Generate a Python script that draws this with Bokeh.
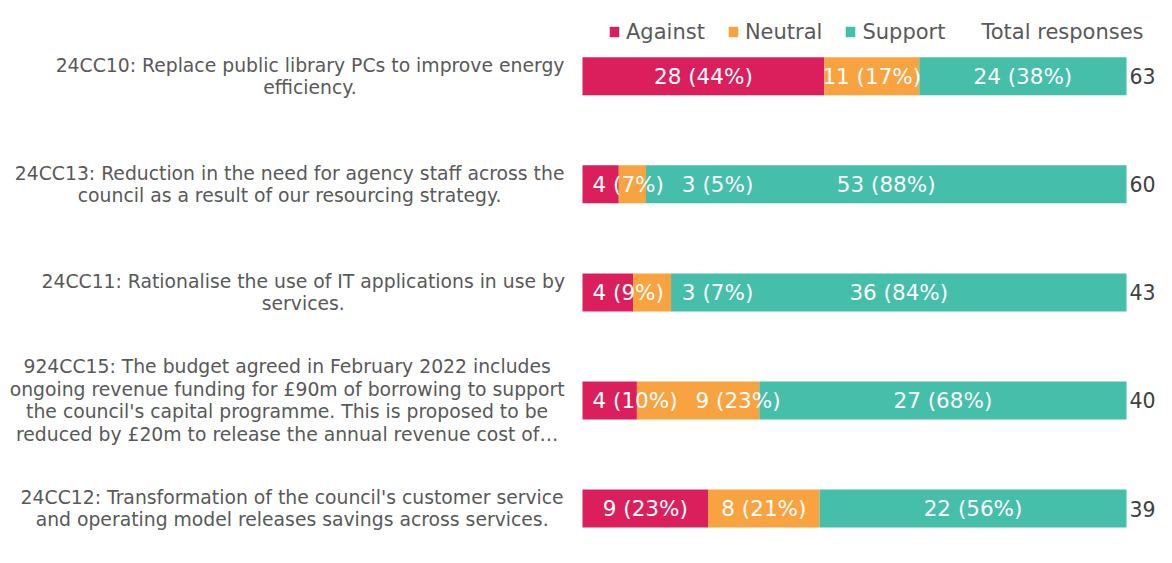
from bokeh.plotting import figure
from bokeh.models import Range1d, Legend, LegendItem, ColumnDataSource
from bokeh.core.properties import value
from bokeh.embed import file_html
from bokeh.resources import INLINE

# ---------------- data ----------------
categories = [
    "24CC10: Replace public library PCs to improve energy\nefficiency.",
    "24CC13: Reduction in the need for agency staff across the\ncouncil as a result of our resourcing strategy.",
    "24CC11: Rationalise the use of IT applications in use by\nservices.",
    "924CC15: The budget agreed in February 2022 includes\nongoing revenue funding for £90m of borrowing to support\nthe council's capital programme. This is proposed to be\nreduced by £20m to release the annual revenue cost of…",
    "24CC12: Transformation of the council's customer service\nand operating model releases savings across services.",
]
against = [28, 4, 4, 4, 9]
neutral = [11, 3, 3, 9, 8]
support = [24, 53, 36, 27, 22]
series_names = ["Against", "Neutral", "Support"]
series_colors = ["#DA1F5C", "#F8A33F", "#45BEAA"]
totals_header = "Total responses"

# ---------------- layout constants ----------------
W, H = 1156, 547
BAR_X0 = 582.0      # canvas px where 0 % sits
BAR_W = 544.0       # px for 100 %
ROW0 = 75.8         # canvas px of first row centre
ROW_STEP = 108.05   # px between rows
BAR_H = 38.0
FONT = "DejaVu Sans"
GREY = "#595959"
DARK = "#404040"

# DejaVu Sans advance widths (em)
DV = {' ': .318, 'a': .613, 'b': .635, 'c': .550, 'd': .635, 'e': .615, 'f': .352, 'g': .635,
      'h': .634, 'i': .278, 'j': .278, 'k': .579, 'l': .278, 'm': .974, 'n': .634, 'o': .612,
      'p': .635, 'q': .635, 'r': .411, 's': .521, 't': .392, 'u': .634, 'v': .592, 'w': .818,
      'x': .592, 'y': .592, 'z': .525, 'A': .684, 'B': .686, 'C': .698, 'D': .770, 'E': .632,
      'F': .575, 'G': .775, 'H': .752, 'I': .295, 'J': .295, 'K': .656, 'L': .557, 'M': .863,
      'N': .748, 'O': .787, 'P': .603, 'Q': .787, 'R': .695, 'S': .635, 'T': .611, 'U': .732,
      'V': .684, 'W': .989, 'X': .685, 'Y': .611, 'Z': .685, ':': .337, '.': .318, ',': .318,
      "'": .275, '(': .390, ')': .390, '%': .950, '£': .636, '…': 1.0}
for d in "0123456789":
    DV[d] = .636


def text_width(s, size):
    return sum(DV.get(ch, 0.6) for ch in s) * size


n = len(categories)
rows = list(range(n))
totals = [a + b + c for a, b, c in zip(against, neutral, support)]

x_range = Range1d(-BAR_X0 / BAR_W, (W - BAR_X0) / BAR_W)
y_range = Range1d((H - ROW0) / ROW_STEP, -ROW0 / ROW_STEP)

p = figure(width=W, height=H, x_range=x_range, y_range=y_range,
           output_backend="svg", toolbar_location=None,
           x_axis_location=None, y_axis_location=None,
           min_border=0, min_border_left=0, min_border_right=0,
           min_border_top=0, min_border_bottom=0)
p.grid.visible = False
p.outline_line_color = None
p.background_fill_color = "white"
p.border_fill_color = "white"

bar_h = BAR_H / ROW_STEP
series = [against, neutral, support]

renderers = []
lefts = [0.0] * n
seg_bounds = [[] for _ in range(n)]
for name, vals, col in zip(series_names, series, series_colors):
    fr = [v / t for v, t in zip(vals, totals)]
    rights = [l + f for l, f in zip(lefts, fr)]
    src = ColumnDataSource(dict(y=rows, left=lefts, right=rights))
    r = p.hbar(y="y", left="left", right="right", height=bar_h, source=src,
               fill_color=col, line_color=None)
    renderers.append(r)
    for i in range(n):
        seg_bounds[i].append((lefts[i], rights[i], vals[i], totals[i]))
    lefts = rights

# value labels inside bars, de-overlapped
LBL_SIZE = 21.5
PAD = 10.0
GAP = 18.0
lx, ly, lt = [], [], []
for i in range(n):
    prev_right = PAD - GAP
    for (l, r, v, t) in seg_bounds[i]:
        txt = "%d (%d%%)" % (v, int(v * 100.0 / t + 0.5))
        w = text_width(txt, LBL_SIZE)
        c = (l + r) / 2 * BAR_W
        left_px = max(c - w / 2, prev_right + GAP)
        prev_right = left_px + w
        lx.append((left_px + w / 2) / BAR_W)
        ly.append(i)
        lt.append(txt)
p.text(x="x", y="y", text="text", source=ColumnDataSource(dict(x=lx, y=ly, text=lt)),
       text_font=value(FONT), text_font_size="%.1fpx" % LBL_SIZE, text_color="white",
       text_align="center", text_baseline="middle")

# category labels (block right edge near bar start, lines centred)
CAT_SIZE = 18.8
CAT_GAP = 17.0
cx = []
for c in categories:
    w = max(text_width(line, CAT_SIZE) for line in c.split("\n"))
    cx.append(-(CAT_GAP + w / 2) / BAR_W)
p.text(x="x", y="y", text="text", source=ColumnDataSource(dict(x=cx, y=rows, text=categories)),
       text_font=value(FONT), text_font_size="%.1fpx" % CAT_SIZE, text_color=GREY,
       text_align="center", text_baseline="middle", text_line_height=1.07)

# totals column
TOT_SIZE = 20.5
p.text(x="x", y="y", text="text",
       source=ColumnDataSource(dict(x=[1 + 3 / BAR_W] * n, y=rows, text=[str(t) for t in totals])),
       text_font=value(FONT), text_font_size="%.1fpx" % TOT_SIZE, text_color=DARK,
       text_align="left", text_baseline="middle")

# header of totals column
p.text(x=[(981 - BAR_X0) / BAR_W], y=[(31.5 - ROW0) / ROW_STEP], text=[totals_header],
       text_font=value(FONT), text_font_size="21px", text_color=GREY,
       text_align="left", text_baseline="middle")

legend = Legend(items=[LegendItem(label=nm, renderers=[r]) for nm, r in zip(series_names, renderers)],
                orientation="horizontal", location=(608, H - 43.5),
                label_text_font=FONT, label_text_font_size="21px", label_text_color=GREY,
                glyph_width=12, glyph_height=13, label_standoff=6, spacing=22,
                padding=0, margin=0, border_line_color=None, background_fill_alpha=0)
p.add_layout(legend)

open("out.html", "w").write(file_html(p, INLINE))
